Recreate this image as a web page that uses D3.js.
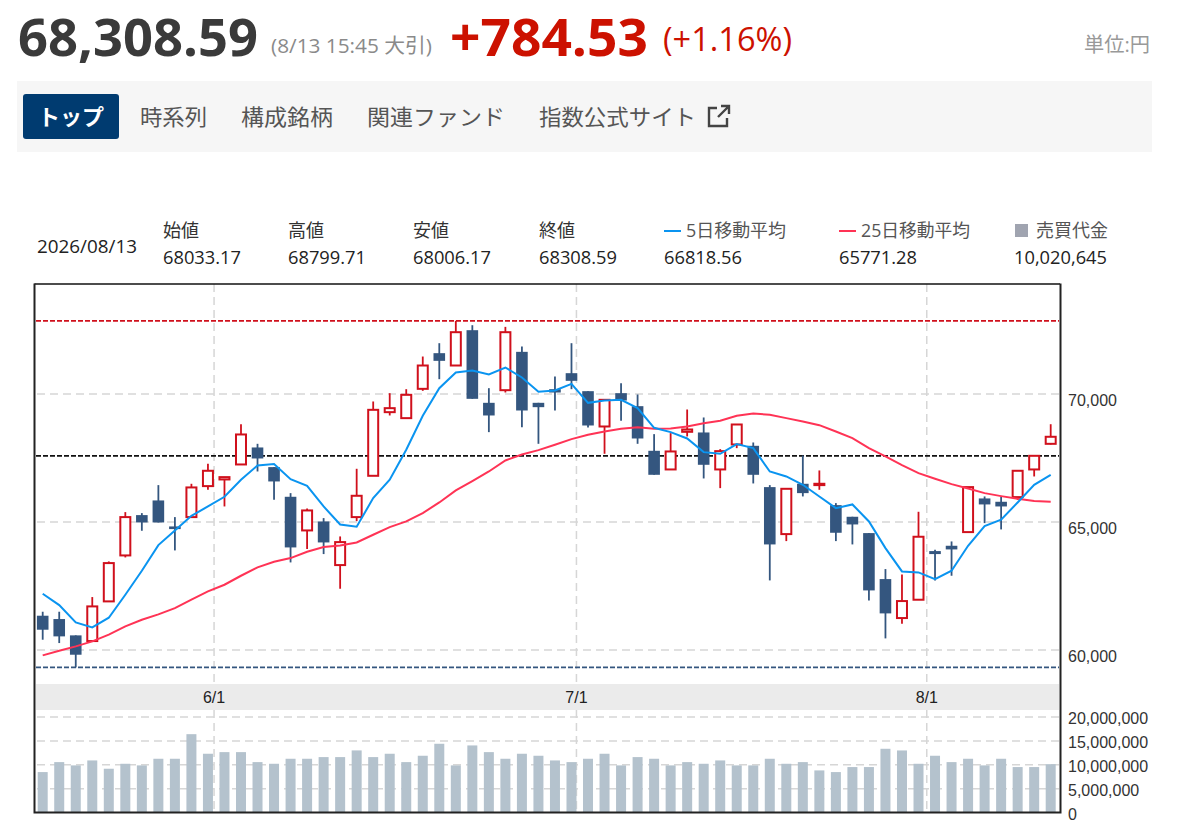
<!DOCTYPE html>
<html lang="ja"><head><meta charset="utf-8">
<script src="https://cdn.jsdelivr.net/npm/d3@7/dist/d3.min.js"></script>
<style>html,body{margin:0;padding:0;background:#fff;overflow:hidden}svg{display:block}
text{font-family:"Open Sans","Noto Sans CJK JP",sans-serif}
.axis text{font-family:"Liberation Sans",Arial,sans-serif;font-size:16px;fill:#333}
.axis .domain{display:none}</style></head><body><svg id="c" width="1180" height="836"></svg>
<script>
const highs=[61472,61472,60548,62045,63438,65365,65326,66420,65170,66472,67253,66732,68802,68034,67123,66107,65508,65131,64415,67058,69688,70013,70169,71445,71966,72839,72669,70208,72604,71836,69636,70664,71966,70091,69779,70404,69961,68412,68451,69375,69063,67826,68789,68086,66420,66276,67578,66993,65717,65183,64545,63139,62930,65378,63894,64219,66342,65977,65977,66993,67578,68799.71];
const lows=[60378,60248,59298,60326,61876,63594,64636,64961,63868,65170,66237,65586,67227,66953,65847,63399,63920,63725,62370,65014,66784,69141,69037,70104,70560,71094,69792,68490,70039,68685,68034,69336,70169,68672,67644,68933,68034,66823,67032,68321,66680,66302,67865,66485,62696,64232,65977,66237,64232,64102,61915,60430,61003,61941,62696,62878,64584,64935,64688,65847,66758,68006.17];
const opens=[61316,61186,60548,60326,61876,63672,65248,65821,64805,65170,66381,66641,67227,67891,67123,65964,64649,65000,63295,65170,66784,69271,69037,70182,71576,71094,72474,69636,70130,71628,69636,70169,70794,70091,68711,70013,69505,67761,67032,68503,68477,67032,68008,67956,66342,64506,66472,66420,65638,65183,64545,62748,61225,61941,63842,64050,64584,65899,65769,65951,67032,68033.17];
const closes=[60769,60509,59792,61680,63373,65170,64961,64961,64701,66329,66980,66732,68399,67461,66563,63985,65430,64180,64193,66003,69362,69427,69948,71094,71276,72396,69792,69141,72396,69336,69466,70039,70495,68750,69753,69727,68242,66823,67735,68594,67214,67748,68789,66823,64102,66276,66107,66472,64558,64883,62305,61407,61889,64402,63725,63907,66342,65665,65586,66980,67565,68308.59];
const ma5=[62175,61732,61055,60860,61238,62136,63074,64076,64649,65222,65586,65964,66628,67188,67240,66654,66394,65586,64883,64792,65912,66628,67800,69128,70208,70820,70899,70742,71016,70625,70065,70117,70378,69636,69727,69753,69427,68659,68490,68242,67709,67644,68021,67865,66953,66758,66433,65977,65521,65665,65000,63959,63047,63008,62748,63074,64050,64818,65066,65743,66433,66818.56];
const ma25=[59766,59949,60118,60313,60574,60899,61160,61368,61615,61941,62266,62527,62878,63204,63425,63568,63816,63998,64063,64180,64480,64779,65000,65326,65743,66211,66576,66953,67383,67618,67787,67995,68216,68386,68516,68620,68685,68620,68633,68711,68841,68933,69128,69219,69167,69037,68907,68763,68516,68255,67865,67539,67201,66888,66667,66459,66289,66107,65990,65886,65795,65771.28];
const volumes=[8.36,10.45,9.76,10.8,9.06,10.1,9.76,11.15,11.15,16.3,12.2,12.54,12.54,10.45,10.1,11.15,11.15,11.5,11.5,12.9,11.5,12.2,10.45,11.78,14.29,9.76,13.94,12.54,11.15,12.2,11.78,10.8,10.45,11.15,12.2,9.76,11.5,11.15,9.76,10.45,10.1,10.8,9.76,9.76,11.15,10.1,10.45,8.71,8.36,9.41,9.41,13.24,12.89,10.1,11.78,10.45,11.15,9.76,11.15,9.41,9.41,10.02];
const prevCloseLine=67560;
const priceTicks=[60000,65000,70000];
const volumeTicks=[0,5000000,10000000,15000000,20000000];
const monthLabels=["6/1","7/1","8/1"];
const monthPositions=[10.37,32.3,53.5];
const infoHeads=["始値","高値","安値","終値"];
const infoVals=["68033.17","68799.71","68006.17","68308.59"];

const svg=d3.select("#c");
const L=36,R=1059,T=284,B=812;
const x=d3.scaleLinear().domain([0,closes.length-1]).range([42.7,1050.7]);
const y=d3.scaleLinear().domain([60000,70000]).range([649.4,393.5]);
const yv=d3.scaleLinear().domain([0,20000000]).range([B,716.5]);
const RED="#d0101c",NAVY="#34567f",GRID="#d6d6d6";

function T_(s,xx,yy,size,fill,w,len,anchor){
  const t=svg.append("text").attr("x",xx).attr("y",yy).attr("font-size",size).attr("fill",fill).attr("font-weight",w||400).text(s);
  if(len)t.attr("textLength",len).attr("lengthAdjust","spacingAndGlyphs");
  if(anchor)t.attr("text-anchor",anchor);
  return t;
}
// header
T_("68,308.59",18,56,52,"#3a3a3a",700,240);
T_("(8/13 15:45 大引)",271,53,20,"#8a8a8a",400,161);
T_("+784.53",450,56,52,"#cc1100",700,198);
T_("(+1.16%)",663,51,32,"#cc1100",400,129);
T_("単位:円",1084,52,20,"#999",400,66);
// tabs
svg.append("rect").attr("x",17).attr("y",81).attr("width",1135).attr("height",71).attr("fill","#f6f6f6");
svg.append("rect").attr("x",23).attr("y",94).attr("width",96).attr("height",45).attr("rx",3).attr("fill","#003b70");
T_("トップ",38,125,22,"#fff",700,66);
[["時系列",140,67],["構成銘柄",241,92],["関連ファンド",367,138],["指数公式サイト",539,157]].forEach(d=>T_(d[0],d[1],125,22,"#555",400,d[2]));
svg.append("path").attr("d","M717 108H709V126H727V118M718 117L729 106M721 106H729V114").attr("fill","none").attr("stroke","#444").attr("stroke-width",2.4);
// info row
T_("2026/08/13",37,253,18,"#222",400,100);
[163,288,413,539].forEach((px,i)=>{T_(infoHeads[i],px,237,18,"#333");T_(infoVals[i],px,264,19,"#222",400,78);});
svg.append("line").attr("x1",664).attr("x2",681).attr("y1",231).attr("y2",231).attr("stroke","#0a94f0").attr("stroke-width",2);
T_("5日移動平均",686,237,18,"#555",400,100);T_("66818.56",664,264,19,"#222",400,78);
svg.append("line").attr("x1",839).attr("x2",856).attr("y1",231).attr("y2",231).attr("stroke","#ff3355").attr("stroke-width",2);
T_("25日移動平均",861,237,18,"#555",400,109);T_("65771.28",839,264,19,"#222",400,78);
svg.append("rect").attr("x",1015).attr("y",224).attr("width",13).attr("height",13).attr("fill","#a0a4b0");
T_("売買代金",1036,237,18,"#555",400,72);T_("10,020,645",1014,264,19,"#222",400,93);
// date band
svg.append("rect").attr("x",L).attr("y",684).attr("width",R-L).attr("height",26).attr("fill","#ebebeb");
// grids
const dash="8 5";
const gy=svg.append("g").attr("class","axis").attr("transform",`translate(${R},0)`)
  .call(d3.axisRight(y).tickValues(priceTicks).tickFormat(d3.format(",")).tickSize(0).tickPadding(9));
gy.selectAll("text").attr("dy","0.77em");
gy.selectAll("line").attr("x2",L-R).attr("stroke",GRID).attr("stroke-width",1.5).attr("stroke-dasharray",dash);
const gv=svg.append("g").attr("class","axis").attr("transform",`translate(${R},0)`)
  .call(d3.axisRight(yv).tickValues(volumeTicks).tickFormat(d3.format(",")).tickSize(0).tickPadding(9));
gv.selectAll("text").attr("dy","0.44em");
gv.selectAll("line").attr("x2",L-R).attr("stroke",GRID).attr("stroke-width",1.5).attr("stroke-dasharray",dash).filter(d=>d===0).remove();
// month ticks
svg.append("g").selectAll("line").data(monthPositions).join("line")
  .attr("x1",d=>x(d)).attr("x2",d=>x(d)).attr("y1",T).attr("y2",684).attr("stroke",GRID).attr("stroke-width",1.5).attr("stroke-dasharray",dash);
svg.append("g").selectAll("line").data(monthPositions).join("line")
  .attr("x1",d=>x(d)).attr("x2",d=>x(d)).attr("y1",710).attr("y2",B).attr("stroke",GRID).attr("stroke-width",1.5).attr("stroke-dasharray",dash);
svg.append("g").selectAll("text").data(monthPositions).join("text")
  .attr("x",d=>x(d)).attr("y",703).attr("text-anchor","middle").attr("fill","#222")
  .style("font-family",'"Liberation Sans",Arial,sans-serif').attr("font-size",16).text((d,i)=>monthLabels[i]);
// volume bars
svg.append("g").selectAll("rect").data(volumes).join("rect")
  .attr("x",(d,i)=>x(i)-5).attr("width",10).attr("y",d=>yv(d*1e6)).attr("height",d=>B-yv(d*1e6)).attr("fill","#b4c2cd");
// reference lines
[[d3.max(highs),RED],[prevCloseLine,"#111"],[d3.min(lows),NAVY]].forEach(d=>{
  svg.append("line").attr("x1",L).attr("x2",R).attr("y1",y(d[0])).attr("y2",y(d[0])).attr("stroke",d[1]).attr("stroke-width",1.8).attr("stroke-dasharray","5 2");
});
// candles
const idx=d3.range(closes.length);
const cg=svg.append("g").selectAll("g").data(idx).join("g");
cg.append("line").attr("x1",i=>x(i)).attr("x2",i=>x(i)).attr("y1",i=>y(highs[i])).attr("y2",i=>y(lows[i]))
  .attr("stroke",i=>closes[i]>=opens[i]?RED:NAVY).attr("stroke-width",1.8);
cg.append("rect").attr("x",i=>x(i)-(closes[i]>=opens[i]?5:5.8)).attr("width",i=>closes[i]>=opens[i]?10:11.6)
  .attr("y",i=>y(Math.max(opens[i],closes[i])))
  .attr("height",i=>Math.abs(y(opens[i])-y(closes[i])))
  .attr("fill",i=>closes[i]>=opens[i]?"#fff":NAVY)
  .attr("stroke",i=>closes[i]>=opens[i]?RED:"none").attr("stroke-width",2);
// moving averages
const ln=d3.line().x((d,i)=>x(i)).y(d=>y(d));
svg.append("path").attr("d",ln(ma25)).attr("fill","none").attr("stroke","#ff3355").attr("stroke-width",2);
svg.append("path").attr("d",ln(ma5)).attr("fill","none").attr("stroke","#0a94f0").attr("stroke-width",2);
// frame
svg.append("path").attr("d",`M34.5 284H1060`).attr("fill","none").attr("stroke","#111").attr("stroke-width",1.5);
svg.append("path").attr("d",`M34.5 283.5V812.5H1060.5V283.5`).attr("fill","none").attr("stroke","#222").attr("stroke-width",2);
</script></body></html>
